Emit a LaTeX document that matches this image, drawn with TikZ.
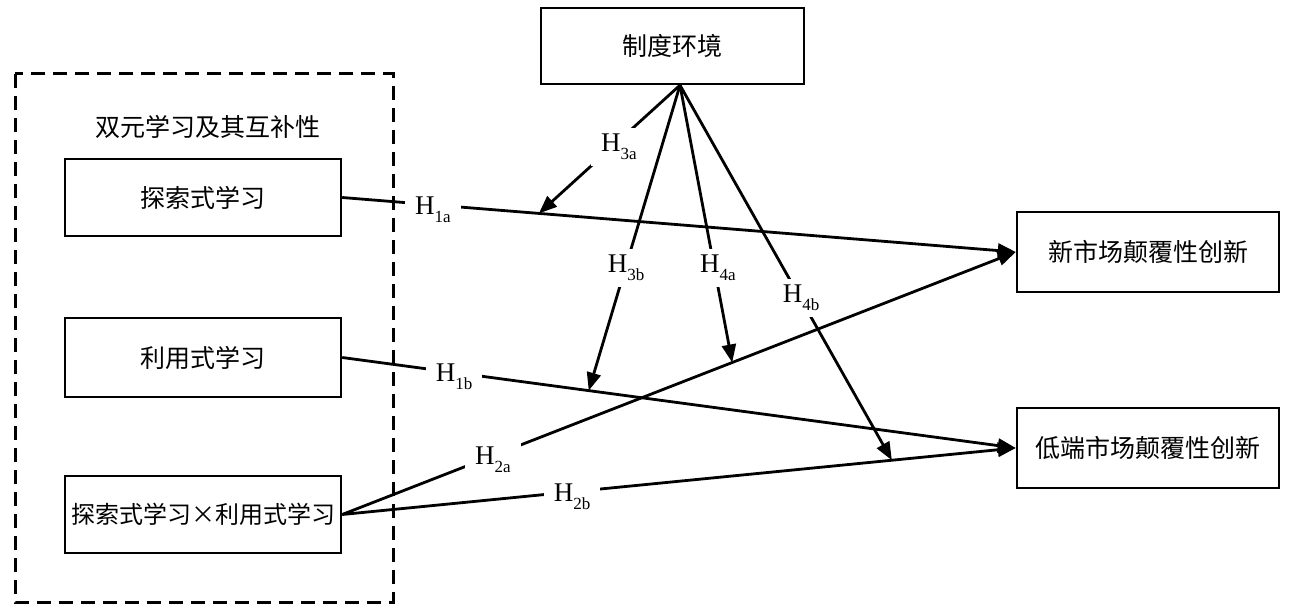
\documentclass[tikz,border=0pt]{standalone}
\usepackage{fontspec}
\setmainfont{Liberation Serif}
\newfontfamily\cjk{Noto Sans CJK SC}
\usetikzlibrary{arrows.meta}
\newcommand\Hlab[1]{H\raisebox{-4pt}{\fontsize{8.5pt}{9pt}\selectfont #1}}
\begin{document}
\begin{tikzpicture}[x=0.5pt,y=-0.5pt,
  box/.style={draw, line width=1.2pt, inner sep=0pt, font=\cjk\fontsize{12.5pt}{15pt}\selectfont},
  conn/.style={line width=1.4pt, -{Triangle[length=9pt,width=7pt]}},
  lab/.style={fill=white, inner xsep=5pt, inner ysep=3pt, font=\fontsize{13.5pt}{16pt}\selectfont},
  grp/.style={draw, line width=1.5pt, dash pattern=on 7pt off 4pt}]
\useasboundingbox (0,0) rectangle (1302,609);
% group frame
\draw[grp] (15,74) rectangle (393,602);
\node[font=\cjk\fontsize{12.5pt}{15pt}\selectfont] (title) at (208,127) {双元学习及其互补性};
% boxes
\node[box, minimum width=138pt, minimum height=38.5pt] (exp) at (203,197.5) {探索式学习};
\node[box, minimum width=138pt, minimum height=39.5pt] (expl) at (203,357.5) {利用式学习};
\node[box, minimum width=138pt, minimum height=38.5pt, font=\cjk\fontsize{12pt}{15pt}\selectfont] (inter) at (203,514.5) {探索式学习×利用式学习};
\node[box, minimum width=131.5pt, minimum height=38pt] (inst) at (672.5,46) {制度环境};
\node[box, minimum width=131pt, minimum height=40pt] (newm) at (1148,252) {新市场颠覆性创新};
\node[box, minimum width=131pt, minimum height=40pt] (lowm) at (1148,448) {低端市场颠覆性创新};
\coordinate (src) at ([xshift=3.75pt]inst.south);
% main paths
\draw[conn] (exp.east) -- coordinate[pos=0.292] (t3a) (newm.west);
\draw[conn] (expl.east) -- coordinate[pos=0.366] (t3b) (lowm.west);
\draw[conn] (inter.east) -- coordinate[pos=0.579] (t4a) (newm.west);
\draw[conn] (inter.east) -- coordinate[pos=0.816] (t4b) (lowm.west);
% moderation paths
\draw[conn] (src) -- (t3a);
\draw[conn] (src) -- (t3b);
\draw[conn] (src) -- (t4a);
\draw[conn] (src) -- (t4b);
% labels
\node[lab] (h1a) at (433,210) {\Hlab{1a}};
\node[lab] (h1b) at (454,377) {\Hlab{1b}};
\node[lab] (h2a) at (493,460) {\Hlab{2a}};
\node[lab] (h2b) at (572,497) {\Hlab{2b}};
\node[lab] (h3a) at (619,147) {\Hlab{3a}};
\node[lab] (h3b) at (626,268) {\Hlab{3b}};
\node[lab] (h4a) at (718,268) {\Hlab{4a}};
\node[lab] (h4b) at (801,298) {\Hlab{4b}};
\end{tikzpicture}
\end{document}
